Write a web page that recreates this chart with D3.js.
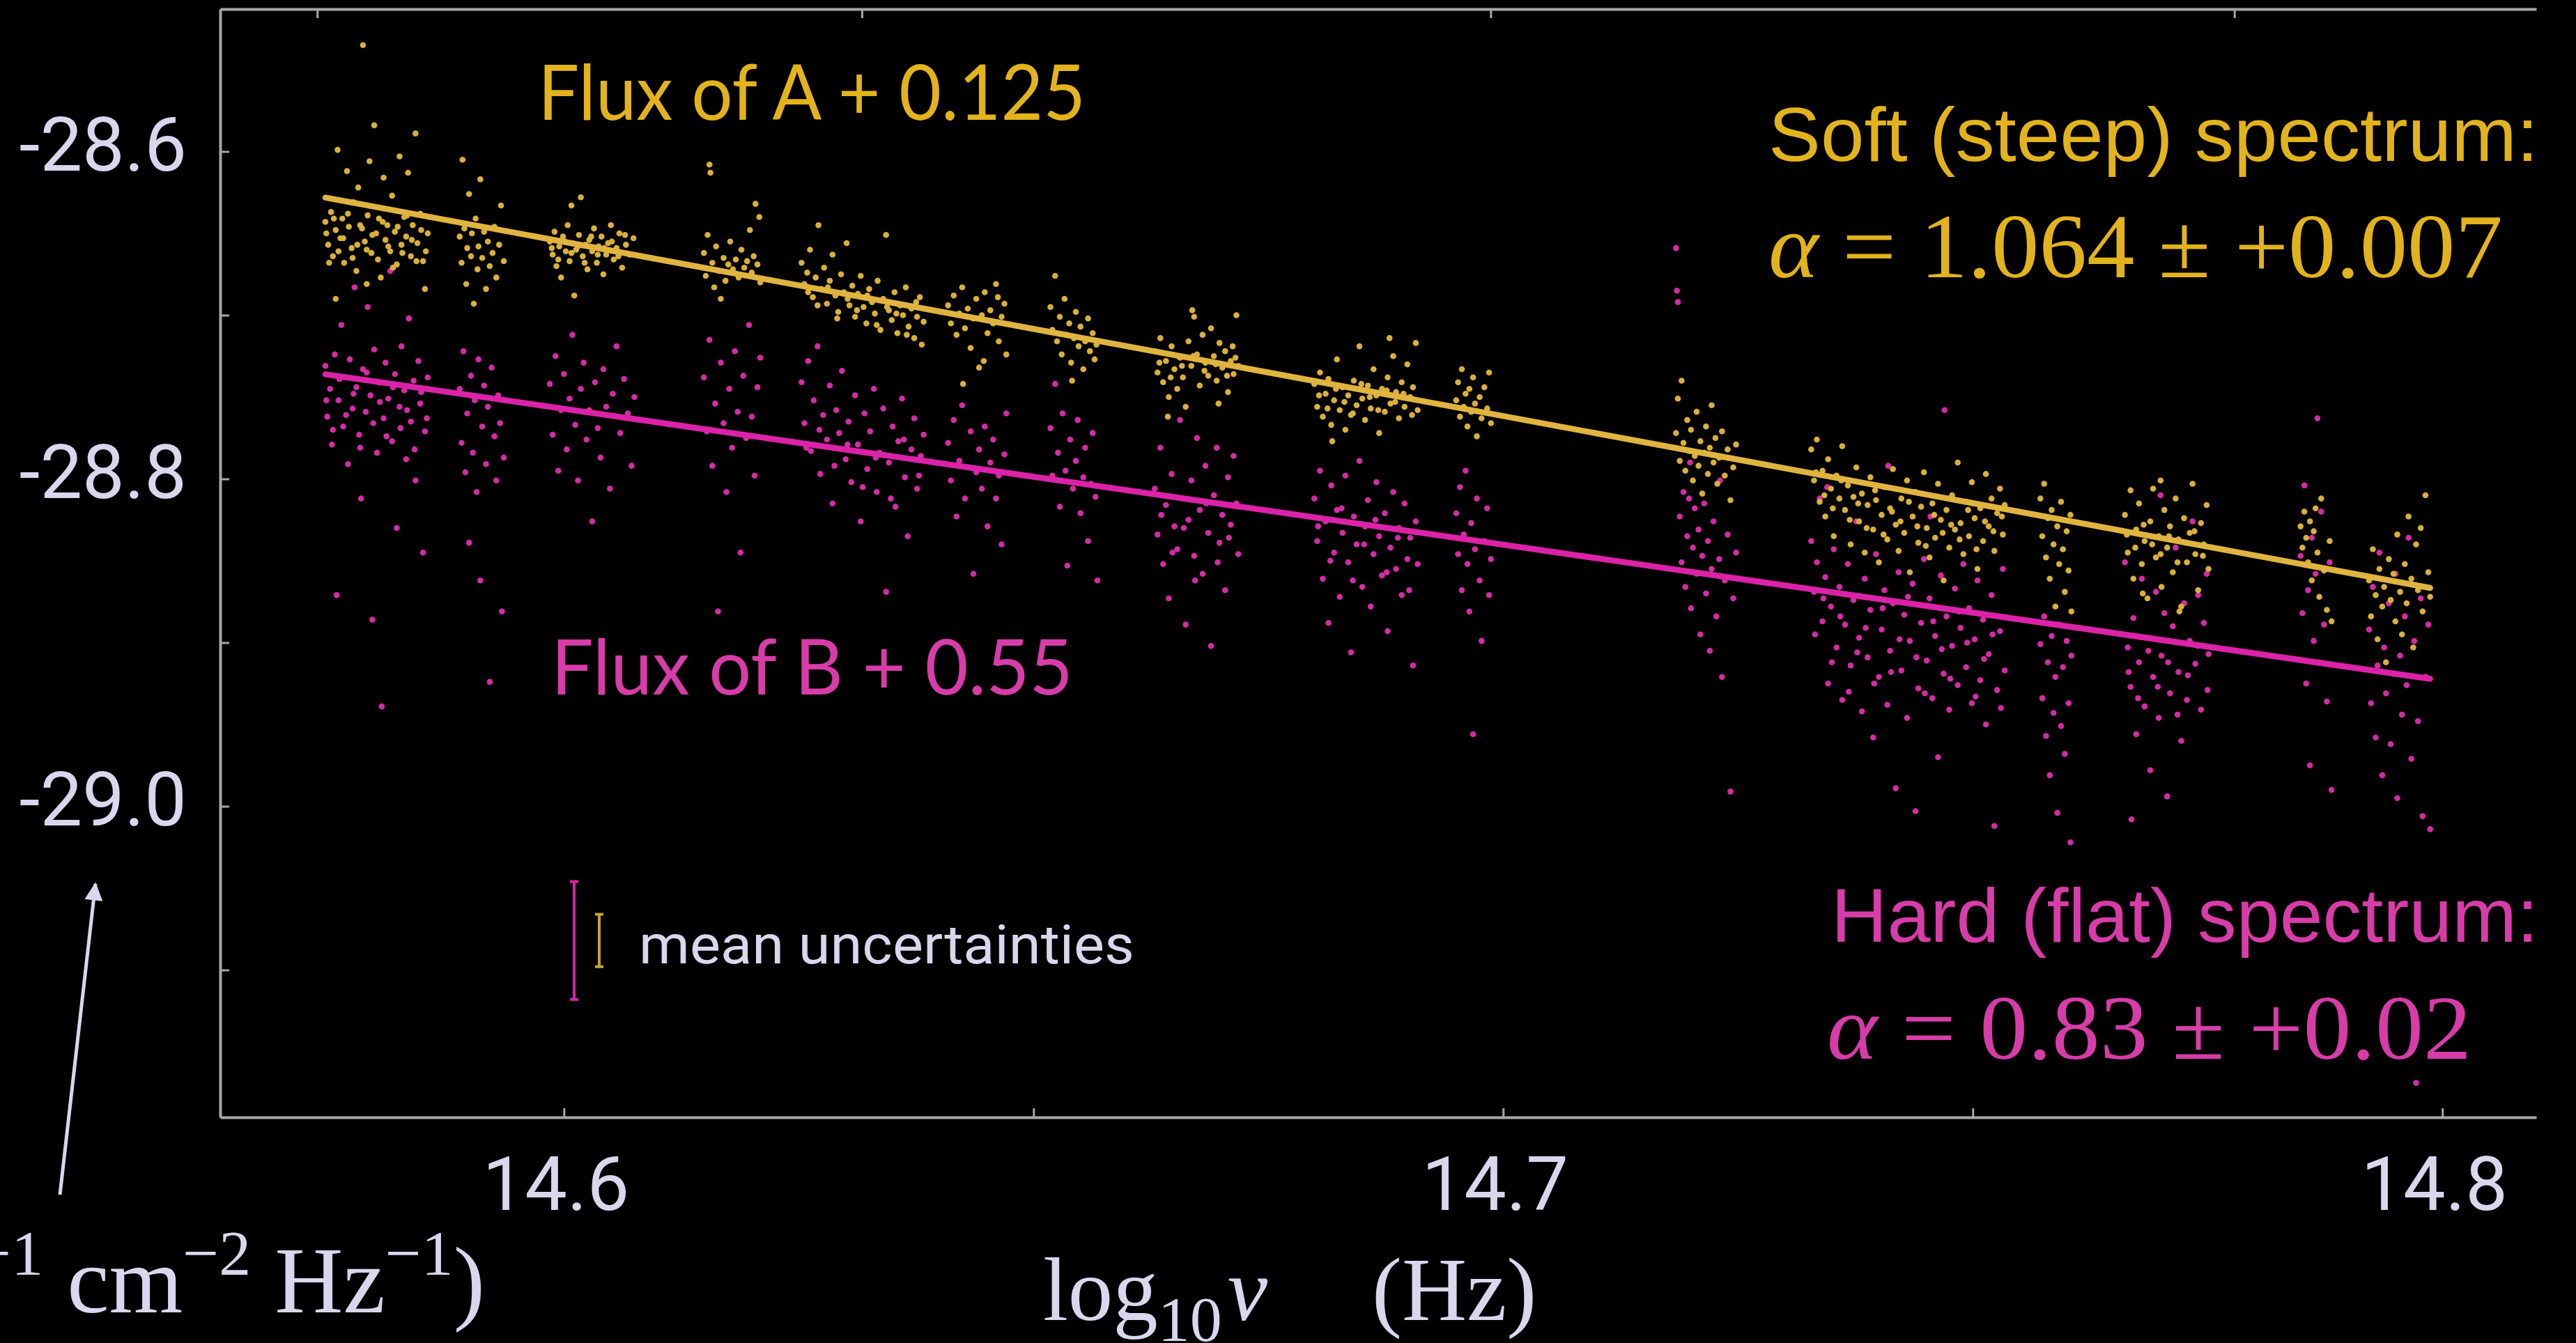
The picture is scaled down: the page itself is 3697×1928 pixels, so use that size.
<!DOCTYPE html>
<html>
<head>
<meta charset="utf-8">
<script src="https://cdn.jsdelivr.net/npm/d3@7"></script>
<style>
  html, body { margin: 0; padding: 0; background: #000; }
  svg { display: block; }
</style>
</head>
<body>
<svg id="chart" width="3697" height="1928"></svg>
<script>
// ---------------------------------------------------------------
// Data: log10 frequency (Hz) vs log10 flux density of images A and B
// (A shifted by +0.125, B shifted by +0.55)
// ---------------------------------------------------------------
const xTickValues = [14.6, 14.65, 14.7, 14.75, 14.8];
const xTickLabels = [14.6, 14.7, 14.8];
const yTickValues = [-28.6, -28.7, -28.8, -28.9, -29.0, -29.1];
const yTickLabels = [-28.6, -28.8, -29.0];
const topWavelengths = [8000, 7000, 6000, 5000];   // Angstrom

const alphaA = 1.064, alphaAErr = 0.007;
const alphaB = 0.83,  alphaBErr = 0.02;
const fitPivot = 14.7;
const fitAAtPivot = -28.7616;
const fitBAtPivot = -28.8402;
const offsetA = 0.125, offsetB = 0.55;

const meanErrA = 0.016;
const meanErrB = 0.036;
const meanErrLevel = -29.082;

const fluxA = [
  [14.5746,-28.643],[14.5749,-28.657],[14.5752,-28.637],[14.5754,-28.664],[14.5757,-28.648],[14.5759,-28.599],[14.5762,-28.653],[14.5764,-28.641],[14.5766,-28.668],[14.5769,-28.612],[14.5771,-28.646],[14.5774,-28.659],[14.5776,-28.631],[14.5779,-28.673],[14.5781,-28.622],[14.5783,-28.645],[14.5786,-28.535],[14.5788,-28.655],[14.5791,-28.639],[14.5793,-28.606],[14.5795,-28.662],[14.5798,-28.584],[14.5800,-28.650],[14.5803,-28.641],[14.5805,-28.677],[14.5808,-28.616],[14.5810,-28.654],[14.5812,-28.645],[14.5815,-28.661],[14.5817,-28.627],[14.5820,-28.649],[14.5822,-28.669],[14.5825,-28.603],[14.5827,-28.657],[14.5830,-28.640],[14.5832,-28.652],[14.5834,-28.613],[14.5837,-28.664],[14.5839,-28.645],[14.5842,-28.589],[14.5844,-28.656],[14.5847,-28.638],[14.5850,-28.667],[14.5852,-28.684],[14.5855,-28.650],[14.5757,-28.690],[14.5790,-28.681],
  [14.5747,-28.650],[14.5750,-28.668],[14.5755,-28.641],[14.5760,-28.661],[14.5765,-28.653],[14.5770,-28.638],[14.5775,-28.665],[14.5780,-28.657],[14.5785,-28.647],[14.5790,-28.660],[14.5796,-28.651],[14.5802,-28.666],[14.5807,-28.643],[14.5813,-28.658],[14.5818,-28.671],[14.5823,-28.646],[14.5828,-28.662],[14.5833,-28.639],[14.5838,-28.654],[14.5843,-28.667],[14.5848,-28.648],[14.5853,-28.661],
  [14.5889,-28.652],[14.5891,-28.668],[14.5892,-28.605],[14.5894,-28.647],[14.5896,-28.681],[14.5897,-28.659],[14.5899,-28.626],[14.5901,-28.664],[14.5902,-28.650],[14.5904,-28.693],[14.5906,-28.641],[14.5908,-28.672],[14.5909,-28.658],[14.5911,-28.617],[14.5913,-28.665],[14.5915,-28.649],[14.5917,-28.684],[14.5919,-28.655],[14.5921,-28.670],[14.5924,-28.662],[14.5926,-28.646],[14.5928,-28.677],[14.5931,-28.657],[14.5933,-28.633],[14.5936,-28.667],
  [14.5985,-28.655],[14.5988,-28.663],[14.5990,-28.649],[14.5992,-28.670],[14.5995,-28.658],[14.5997,-28.677],[14.5999,-28.652],[14.6002,-28.661],[14.6004,-28.645],[14.6006,-28.667],[14.6009,-28.656],[14.6011,-28.688],[14.6013,-28.660],[14.6016,-28.651],[14.6018,-28.628],[14.6020,-28.664],[14.6023,-28.657],[14.6025,-28.672],[14.6027,-28.654],[14.6030,-28.661],[14.6032,-28.647],[14.6035,-28.668],[14.6037,-28.658],[14.6040,-28.652],[14.6042,-28.675],[14.6045,-28.663],[14.6047,-28.656],[14.6050,-28.645],[14.6053,-28.666],[14.6056,-28.659],[14.6059,-28.650],[14.6062,-28.671],[14.6066,-28.657],[14.6070,-28.663],[14.6074,-28.653],[14.6008,-28.633],
  [14.5987,-28.659],[14.5994,-28.666],[14.6001,-28.655],[14.6008,-28.662],[14.6015,-28.658],[14.6022,-28.668],[14.6029,-28.652],[14.6036,-28.663],[14.6043,-28.659],[14.6051,-28.655],[14.6058,-28.664],[14.6065,-28.651],
  [14.6149,-28.662],[14.6151,-28.676],[14.6153,-28.651],[14.6155,-28.608],[14.6156,-28.613],[14.6158,-28.668],[14.6160,-28.683],[14.6162,-28.658],[14.6165,-28.673],[14.6167,-28.690],[14.6170,-28.665],[14.6172,-28.679],[14.6175,-28.669],[14.6177,-28.655],[14.6180,-28.672],[14.6183,-28.666],[14.6186,-28.677],[14.6189,-28.660],[14.6192,-28.671],[14.6195,-28.667],[14.6198,-28.648],[14.6200,-28.674],[14.6202,-28.664],[14.6204,-28.632],[14.6206,-28.669],[14.6208,-28.640],[14.6209,-28.680],
  [14.6253,-28.668],[14.6256,-28.681],[14.6259,-28.674],[14.6262,-28.660],[14.6265,-28.689],[14.6268,-28.677],[14.6271,-28.645],[14.6274,-28.684],[14.6277,-28.671],[14.6280,-28.693],[14.6283,-28.679],[14.6286,-28.663],[14.6289,-28.688],[14.6292,-28.698],[14.6295,-28.675],[14.6298,-28.686],[14.6301,-28.656],[14.6304,-28.694],[14.6307,-28.682],[14.6310,-28.701],[14.6313,-28.687],[14.6316,-28.676],[14.6319,-28.695],[14.6322,-28.705],[14.6325,-28.684],[14.6328,-28.692],[14.6331,-28.699],[14.6334,-28.679],[14.6337,-28.709],[14.6340,-28.690],[14.6343,-28.651],[14.6346,-28.697],[14.6349,-28.703],[14.6352,-28.686],[14.6355,-28.711],[14.6358,-28.694],[14.6361,-28.700],[14.6364,-28.683],[14.6367,-28.707],[14.6370,-28.696],[14.6373,-28.714],[14.6376,-28.701],[14.6379,-28.689],[14.6381,-28.718],[14.6383,-28.704],
  [14.6260,-28.686],[14.6270,-28.694],[14.6281,-28.683],[14.6291,-28.702],[14.6302,-28.690],[14.6312,-28.697],[14.6323,-28.688],[14.6333,-28.706],[14.6344,-28.695],[14.6354,-28.699],[14.6365,-28.712],[14.6375,-28.692],
  [14.6409,-28.694],[14.6412,-28.705],[14.6415,-28.688],[14.6418,-28.712],[14.6421,-28.699],[14.6424,-28.683],[14.6427,-28.708],[14.6430,-28.696],[14.6433,-28.720],[14.6436,-28.702],[14.6439,-28.690],[14.6442,-28.732],[14.6445,-28.700],[14.6448,-28.686],[14.6451,-28.711],[14.6454,-28.697],[14.6457,-28.705],[14.6460,-28.681],[14.6463,-28.716],[14.6466,-28.701],[14.6469,-28.693],[14.6471,-28.724],[14.6425,-28.742],[14.6447,-28.728],[14.6462,-28.689],
  [14.6518,-28.695],[14.6520,-28.709],[14.6523,-28.676],[14.6525,-28.716],[14.6528,-28.701],[14.6530,-28.724],[14.6533,-28.690],[14.6535,-28.712],[14.6538,-28.705],[14.6540,-28.729],[14.6543,-28.714],[14.6545,-28.698],[14.6548,-28.719],[14.6550,-28.707],[14.6553,-28.733],[14.6555,-28.716],[14.6558,-28.702],[14.6560,-28.722],[14.6563,-28.711],[14.6565,-28.727],[14.6567,-28.718],[14.6541,-28.740],
  [14.6629,-28.722],[14.6632,-28.735],[14.6635,-28.714],[14.6638,-28.741],[14.6641,-28.728],[14.6644,-28.750],[14.6647,-28.719],[14.6650,-28.733],[14.6653,-28.745],[14.6656,-28.726],[14.6659,-28.738],[14.6662,-28.756],[14.6665,-28.716],[14.6668,-28.731],[14.6671,-28.701],[14.6674,-28.724],[14.6677,-28.743],[14.6680,-28.712],[14.6683,-28.729],[14.6686,-28.737],[14.6689,-28.708],[14.6692,-28.725],[14.6695,-28.740],[14.6698,-28.717],[14.6701,-28.732],[14.6704,-28.722],[14.6707,-28.747],[14.6710,-28.728],[14.6713,-28.736],[14.6716,-28.700],[14.6718,-28.731],[14.6643,-28.762],[14.6669,-28.697],[14.6697,-28.754],[14.6712,-28.719],
  [14.6634,-28.729],[14.6646,-28.738],[14.6658,-28.731],[14.6670,-28.725],[14.6682,-28.734],[14.6694,-28.730],[14.6706,-28.737],[14.6715,-28.726],
  [14.6799,-28.742],[14.6802,-28.756],[14.6805,-28.735],[14.6808,-28.762],[14.6811,-28.748],[14.6814,-28.739],[14.6817,-28.767],[14.6820,-28.752],[14.6823,-28.727],[14.6826,-28.758],[14.6829,-28.744],[14.6832,-28.770],[14.6835,-28.749],[14.6838,-28.761],[14.6841,-28.740],[14.6844,-28.755],[14.6847,-28.719],[14.6850,-28.751],[14.6853,-28.764],[14.6856,-28.743],[14.6859,-28.757],[14.6862,-28.733],[14.6865,-28.749],[14.6868,-28.772],[14.6871,-28.745],[14.6874,-28.759],[14.6877,-28.738],[14.6880,-28.754],[14.6883,-28.725],[14.6886,-28.747],[14.6889,-28.763],[14.6892,-28.741],[14.6895,-28.756],[14.6898,-28.730],[14.6901,-28.750],[14.6904,-28.744],[14.6907,-28.717],[14.6909,-28.758],[14.6818,-28.777],[14.6879,-28.714],
  [14.6804,-28.749],[14.6813,-28.757],[14.6822,-28.745],[14.6831,-28.753],[14.6840,-28.760],[14.6849,-28.742],[14.6858,-28.750],[14.6867,-28.758],[14.6876,-28.746],[14.6885,-28.753],[14.6894,-28.748],[14.6903,-28.761],
  [14.6950,-28.752],[14.6952,-28.741],[14.6954,-28.762],[14.6956,-28.733],[14.6958,-28.756],[14.6960,-28.748],[14.6962,-28.768],[14.6964,-28.745],[14.6966,-28.759],[14.6968,-28.738],[14.6970,-28.754],[14.6972,-28.774],[14.6975,-28.750],[14.6977,-28.763],[14.6980,-28.744],[14.6983,-28.757],[14.6985,-28.735],[14.6987,-28.766],
  [14.7184,-28.772],[14.7186,-28.751],[14.7188,-28.789],[14.7190,-28.740],[14.7192,-28.778],[14.7194,-28.795],[14.7196,-28.764],[14.7198,-28.783],[14.7200,-28.770],[14.7202,-28.801],[14.7204,-28.786],[14.7206,-28.759],[14.7208,-28.792],[14.7210,-28.777],[14.7212,-28.809],[14.7214,-28.784],[14.7216,-28.768],[14.7218,-28.797],[14.7220,-28.781],[14.7222,-28.755],[14.7224,-28.790],[14.7226,-28.775],[14.7228,-28.803],[14.7230,-28.787],[14.7233,-28.771],[14.7236,-28.798],[14.7239,-28.782],[14.7242,-28.813],[14.7245,-28.793],[14.7248,-28.779],
  [14.7328,-28.782],[14.7331,-28.801],[14.7334,-28.776],[14.7337,-28.814],[14.7340,-28.795],[14.7343,-28.823],[14.7346,-28.788],[14.7349,-28.806],[14.7352,-28.835],[14.7355,-28.798],[14.7358,-28.812],[14.7361,-28.780],[14.7364,-28.819],[14.7367,-28.804],[14.7370,-28.840],[14.7373,-28.811],[14.7376,-28.793],[14.7379,-28.826],[14.7382,-28.809],[14.7385,-28.845],[14.7388,-28.816],[14.7391,-28.799],[14.7394,-28.831],[14.7397,-28.813],[14.7400,-28.851],[14.7403,-28.822],[14.7406,-28.805],[14.7409,-28.837],[14.7412,-28.818],[14.7415,-28.794],[14.7418,-28.828],[14.7421,-28.844],[14.7424,-28.812],[14.7427,-28.833],[14.7430,-28.801],[14.7433,-28.857],[14.7436,-28.823],[14.7439,-28.808],[14.7442,-28.839],[14.7445,-28.817],[14.7448,-28.796],[14.7451,-28.830],[14.7454,-28.848],[14.7457,-28.815],[14.7460,-28.836],[14.7463,-28.803],[14.7466,-28.825],[14.7469,-28.862],[14.7472,-28.819],[14.7475,-28.842],[14.7478,-28.810],[14.7481,-28.831],[14.7484,-28.790],[14.7487,-28.827],[14.7490,-28.846],[14.7493,-28.814],[14.7496,-28.835],[14.7499,-28.802],[14.7502,-28.824],[14.7505,-28.855],[14.7508,-28.818],[14.7511,-28.838],[14.7514,-28.797],[14.7517,-28.829],[14.7520,-28.812],[14.7523,-28.844],[14.7526,-28.821],[14.7529,-28.806],[14.7532,-28.834],[14.7534,-28.816],
  [14.7333,-28.796],[14.7342,-28.810],[14.7351,-28.818],[14.7360,-28.801],[14.7369,-28.825],[14.7378,-28.815],[14.7387,-28.830],[14.7396,-28.807],[14.7405,-28.834],[14.7414,-28.820],[14.7423,-28.826],[14.7432,-28.814],[14.7441,-28.829],[14.7450,-28.841],[14.7459,-28.822],[14.7468,-28.833],[14.7477,-28.828],[14.7486,-28.837],[14.7495,-28.819],[14.7504,-28.843],[14.7513,-28.826],[14.7522,-28.832],[14.7531,-28.823],
  [14.7572,-28.812],[14.7574,-28.835],[14.7576,-28.803],[14.7578,-28.848],[14.7580,-28.824],[14.7582,-28.861],[14.7584,-28.819],[14.7586,-28.840],[14.7588,-28.878],[14.7590,-28.829],[14.7592,-28.852],[14.7594,-28.814],[14.7596,-28.843],[14.7598,-28.869],[14.7600,-28.832],[14.7602,-28.856],[14.7604,-28.822],[14.7605,-28.881],
  [14.7662,-28.822],[14.7665,-28.845],[14.7668,-28.807],[14.7671,-28.861],[14.7674,-28.831],[14.7677,-28.815],[14.7680,-28.852],[14.7683,-28.838],[14.7686,-28.873],[14.7689,-28.826],[14.7692,-28.806],[14.7695,-28.848],[14.7698,-28.835],[14.7701,-28.866],[14.7704,-28.819],[14.7707,-28.842],[14.7710,-28.829],[14.7713,-28.857],[14.7716,-28.812],[14.7719,-28.837],[14.7722,-28.878],[14.7725,-28.824],[14.7728,-28.851],[14.7731,-28.833],[14.7734,-28.803],[14.7737,-28.846],[14.7740,-28.868],[14.7743,-28.827],[14.7746,-28.840],[14.7749,-28.816],[14.7751,-28.855],[14.7700,-28.801],[14.7720,-28.881],[14.7681,-28.870],
  [14.7664,-28.834],[14.7673,-28.842],[14.7682,-28.828],[14.7691,-28.840],[14.7700,-28.846],[14.7709,-28.835],[14.7718,-28.851],[14.7727,-28.839],[14.7736,-28.832],[14.7745,-28.847],
  [14.7849,-28.829],[14.7851,-28.842],[14.7853,-28.820],[14.7855,-28.836],[14.7857,-28.851],[14.7859,-28.826],[14.7861,-28.862],[14.7863,-28.832],[14.7865,-28.818],[14.7867,-28.845],[14.7869,-28.872],[14.7871,-28.812],[14.7874,-28.856],[14.7877,-28.880],[14.7880,-28.838],[14.7882,-28.887],
  [14.7922,-28.862],[14.7924,-28.884],[14.7926,-28.843],[14.7929,-28.871],[14.7931,-28.898],[14.7933,-28.855],[14.7936,-28.878],[14.7938,-28.866],[14.7940,-28.912],[14.7943,-28.849],[14.7945,-28.874],[14.7948,-28.858],[14.7950,-28.887],[14.7952,-28.834],[14.7955,-28.869],[14.7957,-28.895],[14.7960,-28.852],[14.7962,-28.876],[14.7964,-28.823],[14.7967,-28.861],[14.7969,-28.903],[14.7972,-28.840],[14.7974,-28.868],[14.7977,-28.830],[14.7979,-28.881],[14.7982,-28.810],[14.7985,-28.857],[14.7987,-28.872]
];

const fluxB = [
  [14.5746,-28.731],[14.5748,-28.762],[14.5751,-28.745],[14.5753,-28.779],[14.5756,-28.724],[14.5758,-28.871],[14.5760,-28.752],[14.5763,-28.706],[14.5765,-28.768],[14.5767,-28.738],[14.5770,-28.791],[14.5772,-28.727],[14.5775,-28.757],[14.5777,-28.683],[14.5779,-28.744],[14.5782,-28.773],[14.5784,-28.812],[14.5786,-28.733],[14.5789,-28.759],[14.5791,-28.695],[14.5794,-28.749],[14.5796,-28.886],[14.5798,-28.721],[14.5801,-28.784],[14.5803,-28.741],[14.5806,-28.939],[14.5808,-28.763],[14.5810,-28.729],[14.5813,-28.751],[14.5815,-28.673],[14.5817,-28.777],[14.5820,-28.736],[14.5822,-28.830],[14.5825,-28.756],[14.5827,-28.719],[14.5830,-28.746],[14.5832,-28.788],[14.5835,-28.702],[14.5837,-28.765],[14.5840,-28.740],[14.5842,-28.801],[14.5845,-28.728],[14.5847,-28.754],[14.5850,-28.845],[14.5852,-28.771],[14.5855,-28.738],
  [14.5747,-28.752],[14.5754,-28.770],[14.5761,-28.739],[14.5768,-28.761],[14.5776,-28.748],[14.5783,-28.781],[14.5790,-28.735],[14.5797,-28.766],[14.5804,-28.753],[14.5811,-28.774],[14.5818,-28.744],[14.5826,-28.769],[14.5833,-28.758],[14.5841,-28.782],[14.5848,-28.747],[14.5854,-28.763],
  [14.5889,-28.745],[14.5891,-28.778],[14.5893,-28.722],[14.5895,-28.796],[14.5897,-28.760],[14.5899,-28.839],[14.5901,-28.737],[14.5903,-28.784],[14.5905,-28.752],[14.5907,-28.808],[14.5909,-28.727],[14.5911,-28.862],[14.5913,-28.768],[14.5915,-28.743],[14.5917,-28.791],[14.5919,-28.756],[14.5921,-28.924],[14.5923,-28.732],[14.5926,-28.774],[14.5928,-28.801],[14.5930,-28.749],[14.5932,-28.766],[14.5934,-28.881],[14.5936,-28.787],
  [14.5985,-28.742],[14.5988,-28.773],[14.5991,-28.725],[14.5994,-28.795],[14.5997,-28.758],[14.6000,-28.736],[14.6003,-28.782],[14.6006,-28.751],[14.6009,-28.712],[14.6012,-28.767],[14.6015,-28.801],[14.6018,-28.745],[14.6021,-28.729],[14.6024,-28.776],[14.6027,-28.758],[14.6030,-28.826],[14.6033,-28.741],[14.6036,-28.769],[14.6039,-28.787],[14.6042,-28.733],[14.6045,-28.756],[14.6049,-28.806],[14.6052,-28.748],[14.6056,-28.719],[14.6060,-28.772],[14.6064,-28.739],[14.6068,-28.760],[14.6072,-28.792],[14.6075,-28.750],
  [14.6149,-28.738],[14.6152,-28.771],[14.6155,-28.715],[14.6158,-28.792],[14.6161,-28.754],[14.6164,-28.881],[14.6167,-28.729],[14.6170,-28.766],[14.6173,-28.808],[14.6176,-28.745],[14.6179,-28.781],[14.6182,-28.722],[14.6185,-28.759],[14.6188,-28.845],[14.6191,-28.737],[14.6194,-28.775],[14.6197,-28.706],[14.6200,-28.762],[14.6203,-28.798],[14.6206,-28.744],[14.6209,-28.726],
  [14.6253,-28.741],[14.6256,-28.766],[14.6260,-28.728],[14.6263,-28.783],[14.6266,-28.752],[14.6270,-28.719],[14.6273,-28.797],[14.6276,-28.761],[14.6280,-28.776],[14.6283,-28.743],[14.6286,-28.815],[14.6290,-28.758],[14.6293,-28.772],[14.6296,-28.734],[14.6300,-28.788],[14.6303,-28.765],[14.6306,-28.802],[14.6310,-28.749],[14.6313,-28.779],[14.6316,-28.826],[14.6320,-28.760],[14.6323,-28.794],[14.6326,-28.771],[14.6330,-28.745],[14.6333,-28.808],[14.6336,-28.784],[14.6340,-28.757],[14.6343,-28.869],[14.6346,-28.790],[14.6350,-28.768],[14.6353,-28.817],[14.6356,-28.777],[14.6360,-28.751],[14.6363,-28.799],[14.6366,-28.835],[14.6370,-28.782],[14.6373,-28.763],[14.6376,-28.806],[14.6380,-28.786],[14.6383,-28.773],
  [14.6258,-28.781],[14.6272,-28.770],[14.6288,-28.792],[14.6302,-28.779],[14.6318,-28.805],[14.6332,-28.787],[14.6348,-28.812],[14.6362,-28.776],[14.6378,-28.798],
  [14.6409,-28.778],[14.6412,-28.801],[14.6415,-28.764],[14.6418,-28.823],[14.6421,-28.789],[14.6424,-28.755],[14.6427,-28.812],[14.6430,-28.793],[14.6433,-28.771],[14.6436,-28.858],[14.6439,-28.796],[14.6442,-28.782],[14.6445,-28.806],[14.6448,-28.768],[14.6451,-28.829],[14.6454,-28.790],[14.6457,-28.776],[14.6460,-28.812],[14.6463,-28.798],[14.6466,-28.840],[14.6469,-28.785],[14.6471,-28.760],
  [14.6518,-28.769],[14.6520,-28.798],[14.6523,-28.742],[14.6526,-28.784],[14.6528,-28.817],[14.6531,-28.760],[14.6534,-28.795],[14.6536,-28.853],[14.6539,-28.776],[14.6542,-28.806],[14.6545,-28.789],[14.6547,-28.764],[14.6550,-28.821],[14.6553,-28.799],[14.6555,-28.781],[14.6558,-28.838],[14.6561,-28.803],[14.6563,-28.772],[14.6566,-28.811],[14.6568,-28.862],
  [14.6629,-28.806],[14.6632,-28.834],[14.6635,-28.781],[14.6638,-28.852],[14.6641,-28.816],[14.6644,-28.873],[14.6647,-28.797],[14.6650,-28.829],[14.6653,-28.843],[14.6656,-28.764],[14.6659,-28.812],[14.6662,-28.889],[14.6665,-28.825],[14.6668,-28.801],[14.6671,-28.847],[14.6674,-28.775],[14.6677,-28.819],[14.6680,-28.858],[14.6683,-28.792],[14.6686,-28.833],[14.6689,-28.902],[14.6692,-28.810],[14.6695,-28.781],[14.6698,-28.839],[14.6701,-28.822],[14.6704,-28.868],[14.6707,-28.799],[14.6710,-28.828],[14.6713,-28.786],[14.6716,-28.815],[14.6718,-28.846],
  [14.6636,-28.822],[14.6648,-28.845],[14.6660,-28.830],[14.6672,-28.862],[14.6684,-28.815],[14.6696,-28.851],[14.6708,-28.836],
  [14.6799,-28.812],[14.6802,-28.838],[14.6805,-28.795],[14.6808,-28.861],[14.6811,-28.826],[14.6814,-28.888],[14.6817,-28.804],[14.6820,-28.845],[14.6823,-28.819],[14.6826,-28.872],[14.6829,-28.833],[14.6832,-28.798],[14.6835,-28.851],[14.6838,-28.906],[14.6841,-28.823],[14.6844,-28.840],[14.6847,-28.789],[14.6850,-28.866],[14.6853,-28.829],[14.6856,-28.813],[14.6859,-28.878],[14.6862,-28.846],[14.6865,-28.802],[14.6868,-28.835],[14.6871,-28.859],[14.6874,-28.821],[14.6877,-28.893],[14.6880,-28.842],[14.6883,-28.808],[14.6886,-28.855],[14.6889,-28.830],[14.6892,-28.871],[14.6895,-28.815],[14.6898,-28.849],[14.6901,-28.836],[14.6904,-28.914],[14.6907,-28.826],[14.6909,-28.852],
  [14.6803,-28.829],[14.6816,-28.850],[14.6828,-28.818],[14.6840,-28.862],[14.6852,-28.840],[14.6864,-28.825],[14.6876,-28.857],[14.6888,-28.836],[14.6900,-28.868],
  [14.6950,-28.821],[14.6952,-28.846],[14.6954,-28.805],[14.6956,-28.868],[14.6958,-28.834],[14.6960,-28.795],[14.6962,-28.852],[14.6964,-28.881],[14.6966,-28.827],[14.6968,-28.956],[14.6970,-28.843],[14.6972,-28.812],[14.6975,-28.862],[14.6977,-28.899],[14.6980,-28.838],[14.6983,-28.818],[14.6985,-28.871],[14.6987,-28.849],
  [14.7184,-28.659],[14.7185,-28.685],[14.7186,-28.692],[14.7188,-28.823],[14.7190,-28.851],[14.7192,-28.808],[14.7194,-28.866],[14.7196,-28.835],[14.7198,-28.812],[14.7200,-28.879],[14.7202,-28.842],[14.7204,-28.818],[14.7206,-28.858],[14.7208,-28.831],[14.7210,-28.895],[14.7212,-28.847],[14.7214,-28.815],[14.7216,-28.870],[14.7218,-28.838],[14.7220,-28.905],[14.7222,-28.855],[14.7224,-28.826],[14.7227,-28.884],[14.7230,-28.849],[14.7233,-28.921],[14.7236,-28.862],[14.7239,-28.834],[14.7242,-28.991],[14.7245,-28.873],[14.7248,-28.845],[14.7199,-28.790],[14.7231,-28.801],
  [14.7328,-28.838],[14.7331,-28.869],[14.7334,-28.851],[14.7337,-28.812],[14.7340,-28.887],[14.7343,-28.860],[14.7346,-28.925],[14.7349,-28.878],[14.7352,-28.843],[14.7355,-28.903],[14.7358,-28.866],[14.7361,-28.935],[14.7364,-28.889],[14.7367,-28.852],[14.7370,-28.914],[14.7373,-28.874],[14.7376,-28.826],[14.7379,-28.897],[14.7382,-28.942],[14.7385,-28.861],[14.7388,-28.909],[14.7391,-28.880],[14.7394,-28.958],[14.7397,-28.846],[14.7400,-28.921],[14.7403,-28.892],[14.7406,-28.868],[14.7409,-28.938],[14.7412,-28.905],[14.7415,-28.876],[14.7418,-28.989],[14.7421,-28.857],[14.7424,-28.917],[14.7427,-28.883],[14.7430,-28.946],[14.7433,-28.899],[14.7436,-28.864],[14.7439,-29.003],[14.7442,-28.928],[14.7445,-28.888],[14.7448,-28.849],[14.7451,-28.911],[14.7454,-28.873],[14.7457,-28.934],[14.7460,-28.896],[14.7463,-28.970],[14.7466,-28.859],[14.7469,-28.919],[14.7472,-28.884],[14.7475,-28.941],[14.7478,-28.902],[14.7481,-28.867],[14.7484,-28.926],[14.7487,-28.891],[14.7490,-28.852],[14.7493,-28.915],[14.7496,-28.879],[14.7499,-28.937],[14.7502,-28.898],[14.7505,-28.862],[14.7508,-28.923],[14.7511,-28.886],[14.7514,-28.950],[14.7517,-28.907],[14.7520,-28.871],[14.7523,-29.012],[14.7526,-28.929],[14.7529,-28.893],[14.7532,-28.855],[14.7534,-28.917],[14.7345,-28.805],[14.7410,-28.792],[14.7455,-28.823],[14.7500,-28.815],[14.7470,-28.758],
  [14.7332,-28.895],[14.7341,-28.873],[14.7350,-28.912],[14.7359,-28.884],[14.7368,-28.930],[14.7377,-28.906],[14.7386,-28.891],[14.7395,-28.925],[14.7404,-28.879],[14.7413,-28.918],[14.7422,-28.898],[14.7431,-28.872],[14.7440,-28.909],[14.7449,-28.931],[14.7458,-28.887],[14.7467,-28.904],[14.7476,-28.922],[14.7485,-28.881],[14.7494,-28.900],[14.7503,-28.933],[14.7512,-28.910],[14.7521,-28.895],[14.7530,-28.940],
  [14.7572,-28.901],[14.7574,-28.934],[14.7576,-28.884],[14.7578,-28.957],[14.7580,-28.912],[14.7582,-28.981],[14.7584,-28.896],[14.7586,-28.943],[14.7588,-28.921],[14.7590,-29.004],[14.7592,-28.889],[14.7594,-28.951],[14.7596,-28.915],[14.7598,-28.968],[14.7600,-28.899],[14.7602,-28.937],[14.7604,-29.022],[14.7605,-28.908],
  [14.7662,-28.851],[14.7665,-28.903],[14.7668,-28.927],[14.7671,-28.885],[14.7674,-28.956],[14.7677,-28.912],[14.7680,-28.861],[14.7683,-28.939],[14.7686,-28.897],[14.7689,-28.978],[14.7692,-28.921],[14.7695,-28.869],[14.7698,-28.946],[14.7701,-28.908],[14.7704,-28.882],[14.7707,-28.994],[14.7710,-28.931],[14.7713,-28.890],[14.7716,-28.842],[14.7719,-28.918],[14.7722,-28.960],[14.7725,-28.876],[14.7728,-28.935],[14.7731,-28.899],[14.7734,-28.826],[14.7737,-28.913],[14.7740,-28.871],[14.7743,-28.941],[14.7746,-28.888],[14.7749,-28.858],[14.7751,-28.907],[14.7669,-29.008],[14.7700,-28.810],
  [14.7666,-28.918],[14.7676,-28.934],[14.7687,-28.905],[14.7697,-28.927],[14.7708,-28.912],[14.7718,-28.944],[14.7729,-28.920],[14.7740,-28.902],[14.7750,-28.929],
  [14.7849,-28.847],[14.7851,-28.882],[14.7853,-28.804],[14.7855,-28.925],[14.7857,-28.868],[14.7859,-28.975],[14.7861,-28.836],[14.7863,-28.899],[14.7865,-28.858],[14.7867,-28.763],[14.7869,-28.912],[14.7871,-28.820],[14.7874,-28.889],[14.7877,-28.936],[14.7880,-28.851],[14.7882,-28.990],
  [14.7922,-28.892],[14.7924,-28.937],[14.7926,-28.866],[14.7929,-28.958],[14.7931,-28.914],[14.7933,-28.845],[14.7936,-28.981],[14.7938,-28.903],[14.7940,-28.931],[14.7943,-28.876],[14.7945,-28.962],[14.7948,-28.919],[14.7950,-28.858],[14.7952,-28.995],[14.7955,-28.908],[14.7957,-28.944],[14.7960,-28.884],[14.7962,-28.926],[14.7964,-28.836],[14.7967,-28.971],[14.7972,-29.169],[14.7970,-28.899],[14.7974,-28.948],[14.7977,-28.873],[14.7979,-29.006],[14.7982,-28.921],[14.7985,-28.889],[14.7987,-29.014]
];

// ---------------------------------------------------------------
// Layout and styling
// ---------------------------------------------------------------
const GOLD_TEXT = "#e3b31c", GOLD_DOT = "#d9b03a", GOLD_LINE = "#e0b43e";
const MAG_TEXT = "#d83ca9",  MAG_DOT = "#d52ba6",  MAG_LINE = "#dc22a8";
const INK = "#d9d6ee";
const AXIS = "#a6a6a6";

const plot = { left: 316, right: 3640, top: 13, bottom: 1604 };

const svg = d3.select("#chart");
svg.append("rect").attr("width", 3697).attr("height", 1928).attr("fill", "#000");

const x = d3.scaleLinear().domain([14.5634, 14.8100]).range([plot.left, plot.right]);
const y = d3.scaleLinear().domain([-29.19, -28.513]).range([plot.bottom, plot.top]);

// ---- axes ----
const fmt = d => d.toFixed(1);

const gx = svg.append("g")
  .attr("transform", `translate(0,${plot.bottom})`)
  .call(d3.axisBottom(x)
    .tickValues(xTickValues)
    .tickSizeInner(-13).tickSizeOuter(0).tickPadding(56)
    .tickFormat(d => xTickLabels.some(v => Math.abs(v - d) < 1e-9) ? fmt(d) : ""));

const gy = svg.append("g")
  .attr("transform", `translate(${plot.left},0)`)
  .call(d3.axisLeft(y)
    .tickValues(yTickValues)
    .tickSizeInner(-13).tickSizeOuter(0).tickPadding(48)
    .tickFormat(d => yTickLabels.some(v => Math.abs(v - d) < 1e-9) ? fmt(d) : ""));

// top frame: wavelength marks (log10 of c / lambda)
const C_ANGSTROM = 2.99792458e18;
const gt = svg.append("g")
  .attr("transform", `translate(0,${plot.top})`)
  .call(d3.axisTop(x)
    .tickValues(topWavelengths.map(l => Math.log10(C_ANGSTROM / l)))
    .tickSizeInner(-13).tickSizeOuter(0)
    .tickFormat(() => ""));

[gx, gy, gt].forEach(g => {
  g.select(".domain").attr("stroke", AXIS).attr("stroke-width", 4);
  g.selectAll(".tick line").attr("stroke", AXIS).attr("stroke-width", 3);
  g.selectAll(".tick text")
    .attr("fill", INK)
    .attr("font-family", "Roboto, 'Liberation Sans', sans-serif")
    .attr("font-size", 108);
});
gy.selectAll(".tick text").attr("dy", "0.25em");
gx.selectAll(".tick text").attr("dx", -12);

// ---- fitted power laws: log F = const - alpha * log nu ----
const nuExtent = d3.extent(fluxA.concat(fluxB), d => d[0]);
const fitLine = (atPivot, alpha) => nuExtent.map(v => [v, atPivot - alpha * (v - fitPivot)]);
const line = d3.line().x(d => x(d[0])).y(d => y(d[1]));

const DOT_R = 4.3;

// magenta (B) first, gold (A) on top
svg.append("g").selectAll("circle").data(fluxB).join("circle")
  .attr("cx", d => x(d[0])).attr("cy", d => y(d[1])).attr("r", DOT_R)
  .attr("fill", MAG_DOT);

svg.append("path").datum(fitLine(fitBAtPivot, alphaB))
  .attr("d", line).attr("fill", "none")
  .attr("stroke", MAG_LINE).attr("stroke-width", 8.5).attr("stroke-linecap", "round");

svg.append("g").selectAll("circle").data(fluxA).join("circle")
  .attr("cx", d => x(d[0])).attr("cy", d => y(d[1])).attr("r", DOT_R)
  .attr("fill", GOLD_DOT);

svg.append("path").datum(fitLine(fitAAtPivot, alphaA))
  .attr("d", line).attr("fill", "none")
  .attr("stroke", GOLD_LINE).attr("stroke-width", 8.5).attr("stroke-linecap", "round");

// ---- mean uncertainty bars ----
const errBars = [
  { px: 824, err: meanErrB, color: MAG_LINE },
  { px: 860, err: meanErrA, color: "#c9a232" }
];
const eb = svg.append("g");
errBars.forEach(b => {
  const y0 = y(meanErrLevel - b.err), y1 = y(meanErrLevel + b.err);
  eb.append("line").attr("x1", b.px).attr("x2", b.px).attr("y1", y0).attr("y2", y1)
    .attr("stroke", b.color).attr("stroke-width", 4);
  [y0, y1].forEach(yy => eb.append("line")
    .attr("x1", b.px - 6).attr("x2", b.px + 6).attr("y1", yy).attr("y2", yy)
    .attr("stroke", b.color).attr("stroke-width", 4));
});
svg.append("text").attr("x", 917).attr("y", 1383)
  .attr("fill", INK).attr("font-family", "Roboto, sans-serif").attr("font-size", 78)
  .attr("textLength", 711).attr("lengthAdjust", "spacingAndGlyphs")
  .text("mean uncertainties");

// ---- series labels ----
const sans = "Lato, 'Open Sans', sans-serif";
svg.append("text").attr("x", 772).attr("y", 172)
  .attr("fill", GOLD_TEXT).attr("font-family", sans).attr("font-size", 110)
  .attr("textLength", 786).attr("lengthAdjust", "spacingAndGlyphs")
  .text(`Flux of A + ${offsetA}`);
svg.append("text").attr("x", 791).attr("y", 997)
  .attr("fill", MAG_TEXT).attr("font-family", sans).attr("font-size", 110)
  .attr("textLength", 749).attr("lengthAdjust", "spacingAndGlyphs")
  .text(`Flux of B + ${offsetB}`);

// ---- spectral index annotations ----
const helv = "'Liberation Sans', Arial, sans-serif";
const serif = "'Liberation Serif', 'Times New Roman', serif";

function indexLabel(title, alpha, err, color, x0, yTitle, wTitle, xEq, yEq, wEq) {
  svg.append("text").attr("x", x0).attr("y", yTitle)
    .attr("fill", color).attr("font-family", helv).attr("font-size", 109)
    .attr("textLength", wTitle).attr("lengthAdjust", "spacingAndGlyphs")
    .text(title);
  const t = svg.append("text").attr("x", xEq).attr("y", yEq)
    .attr("fill", color).attr("font-family", serif).attr("font-size", 132)
    .attr("textLength", wEq).attr("lengthAdjust", "spacingAndGlyphs");
  t.append("tspan").attr("font-style", "italic").text("α");
  t.append("tspan").text(` = ${alpha} ± +${err}`);
}
indexLabel("Soft (steep) spectrum:", alphaA.toFixed(3), alphaAErr.toFixed(3), GOLD_TEXT,
  2538, 231, 1105, 2538, 398, 1054);
indexLabel("Hard (flat) spectrum:", alphaB.toFixed(2), alphaBErr.toFixed(2), MAG_TEXT,
  2628, 1352, 1015, 2622, 1520, 925);

// ---- axis titles ----
const xt = svg.append("text").attr("x", 1497).attr("y", 1895)
  .attr("fill", INK).attr("font-family", serif).attr("font-size", 129);
xt.append("tspan").text("log");
xt.append("tspan").attr("font-size", 92).attr("dy", 30).text("10");
xt.append("tspan").attr("font-style", "italic").attr("dy", -30).attr("dx", 8).text("ν");
svg.append("text").attr("x", 1969).attr("y", 1895)
  .attr("fill", INK).attr("font-family", serif).attr("font-size", 129)
  .text("(Hz)");

const yt = svg.append("text").attr("x", 696).attr("y", 1884).attr("text-anchor", "end")
  .attr("fill", INK).attr("font-family", serif).attr("font-size", 136);
yt.append("tspan").text("log");
yt.append("tspan").attr("font-size", 94).attr("dy", 30).text("10");
yt.append("tspan").attr("font-style", "italic").attr("dy", -30).text(" F");
yt.append("tspan").attr("font-style", "italic").attr("font-size", 94).attr("dy", 30).text("ν");
yt.append("tspan").attr("dy", -30).text("   (erg s");
yt.append("tspan").attr("font-size", 92).attr("dy", -54).text("−1");
yt.append("tspan").attr("dy", 54).text(" cm");
yt.append("tspan").attr("font-size", 92).attr("dy", -54).text("−2");
yt.append("tspan").attr("dy", 54).text(" Hz");
yt.append("tspan").attr("font-size", 92).attr("dy", -54).text("−1");
yt.append("tspan").attr("dy", 54).text(")");

// arrow pointing from the axis title up to the flux axis
const defs = svg.append("defs");
defs.append("marker").attr("id", "arrowhead")
  .attr("viewBox", "0 0 10 10").attr("refX", 9).attr("refY", 5)
  .attr("markerUnits", "userSpaceOnUse").attr("markerWidth", 30).attr("markerHeight", 26)
  .attr("orient", "auto")
  .append("path").attr("d", "M0,0 L10,5 L0,10 Z").attr("fill", INK);
svg.append("line").attr("x1", 86).attr("y1", 1715).attr("x2", 137).attr("y2", 1269)
  .attr("stroke", INK).attr("stroke-width", 5).attr("marker-end", "url(#arrowhead)");
</script>
</body>
</html>
